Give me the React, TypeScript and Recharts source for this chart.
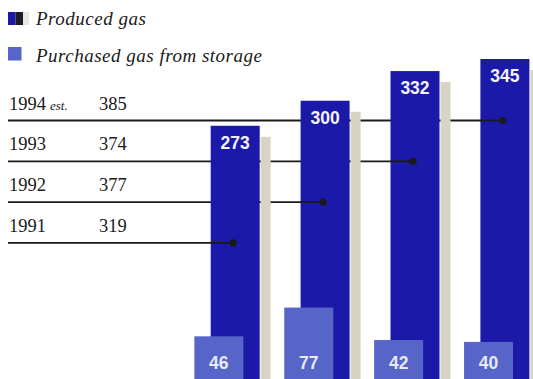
import React from 'react';
import { BarChart, Bar, XAxis, YAxis, Legend } from 'recharts';

// ---- data ----
const years = ['1991', '1992', '1993', '1994'];
const estimated = [false, false, false, true];
const produced = [273, 300, 332, 345];
const purchased = [46, 77, 42, 40];
const totals = [319, 377, 374, 385];
const seriesNames = ['Produced gas', 'Purchased gas from storage'];

const data = years.map((year, i) => ({
  year,
  est: estimated[i],
  produced: produced[i],
  purchased: purchased[i],
  total: totals[i],
}));

// ---- styles ----
const DARK = '#1b19a8';
const LIGHT = '#5765c8';
const SHADOW = '#d9d3c3';
const INK = '#1a1a1a';
const SERIF = "'Liberation Serif', 'Times New Roman', serif";
const SANS = "'Liberation Sans', Arial, sans-serif";
const ROW_TOP = 120.5;
const ROW_PITCH = 40.8;

const rowY = (index: number) => ROW_TOP + (years.length - 1 - index) * ROW_PITCH;

// background of produced bars: table row + leader line (behind the bars)
const RowLeader = (props: any) => {
  const { x, width, index, payload } = props;
  const y = rowY(index);
  const dotX = x + width / 2 - 2;
  return (
    <g>
      <line x1={8} x2={dotX} y1={y} y2={y} stroke={INK} strokeWidth={1.8} />
      <text x={9} y={y - 11} fontFamily={SERIF} fontSize={18.5} fill={INK}>
        {payload.year}
        {payload.est ? (
          <tspan fontStyle="italic" fontSize={13} dx={4}>
            est.
          </tspan>
        ) : null}
      </text>
      <text x={99} y={y - 11} fontFamily={SERIF} fontSize={18.5} fill={INK}>
        {payload.total}
      </text>
    </g>
  );
};

const ProducedShape = (props: any) => {
  const { x, y, width, height, index, value } = props;
  const ly = rowY(index);
  const dotX = x + width / 2 - 2;
  return (
    <g>
      <rect x={x} y={y} width={width} height={height} fill={DARK} />
      <line x1={x} x2={dotX} y1={ly} y2={ly} stroke={INK} strokeWidth={1.8} />
      <circle cx={dotX} cy={ly} r={3.6} fill={INK} />
      <text
        x={x + width / 2}
        y={y + 23}
        textAnchor="middle"
        fontFamily={SANS}
        fontWeight="bold"
        fontSize={17.5}
        fill="#f4f4ff"
      >
        {Array.isArray(value) ? value[1] : value}
      </text>
    </g>
  );
};

const PurchasedShape = (props: any) => {
  const { x, y, width, height, value } = props;
  return (
    <g>
      <rect x={x} y={y} width={width} height={height} fill={LIGHT} />
      <text
        x={x + width / 2}
        y={y + height - 10}
        textAnchor="middle"
        fontFamily={SANS}
        fontWeight="bold"
        fontSize={17.5}
        fill="#e8eaf8"
      >
        {Array.isArray(value) ? value[1] : value}
      </text>
    </g>
  );
};

const ShadowShape = (props: any) => {
  const { x, y, width, height } = props;
  const drop = 11;
  return <rect x={x} y={y + drop} width={width} height={Math.max(0, height - drop)} fill={SHADOW} />;
};

const LegendContent = () => (
  <svg width={300} height={70} style={{ display: 'block' }}>
    <rect x={8} y={12} width={7.5} height={13} fill={DARK} />
    <rect x={15.5} y={12} width={7.5} height={13} fill="#1c1c24" />
    <rect x={23} y={12} width={6} height={13} fill="#e6e6e2" />
    <text x={36} y={25} fontFamily={SERIF} fontStyle="italic" fontSize={19} letterSpacing={0.5} fill={INK}>
      {seriesNames[0]}
    </text>
    <rect x={8} y={47} width={13.5} height={13.5} fill={LIGHT} />
    <text x={36} y={61.5} fontFamily={SERIF} fontStyle="italic" fontSize={19} letterSpacing={0.5} fill={INK}>
      {seriesNames[1]}
    </text>
  </svg>
);

export default function App() {
  return (
    <div style={{ position: 'absolute', left: 0, top: 0, width: 533, height: 379, overflow: 'hidden', background: '#fff' }}>
      <BarChart width={582} height={379} data={data} margin={{ top: 8, right: 0, bottom: 0, left: 0 }}>
        <XAxis xAxisId="s" dataKey="year" hide padding={{ left: 220.7, right: 1.7 }} />
        <XAxis xAxisId="p" dataKey="year" hide padding={{ left: 190.7, right: 31.7 }} />
        <XAxis xAxisId="q" dataKey="year" hide padding={{ left: 174.35, right: 48.05 }} />
        <YAxis hide domain={[0, 400]} />
        <Legend
          layout="horizontal"
          verticalAlign="middle"
          align="center"
          content={LegendContent}
          wrapperStyle={{ position: 'absolute', left: 0, top: 0, width: 300, height: 70 }}
        />
        <Bar
          xAxisId="s"
          dataKey="produced"
          barSize={10}
          legendType="none"
          shape={ShadowShape}
          isAnimationActive={false}
        />
        <Bar
          xAxisId="p"
          dataKey="produced"
          name={seriesNames[0]}
          barSize={49}
          fill={DARK}
          background={RowLeader}
          shape={ProducedShape}
          isAnimationActive={false}
        />
        <Bar
          xAxisId="q"
          dataKey="purchased"
          name={seriesNames[1]}
          barSize={49}
          fill={LIGHT}
          shape={PurchasedShape}
          isAnimationActive={false}
        />
      </BarChart>
    </div>
  );
}
